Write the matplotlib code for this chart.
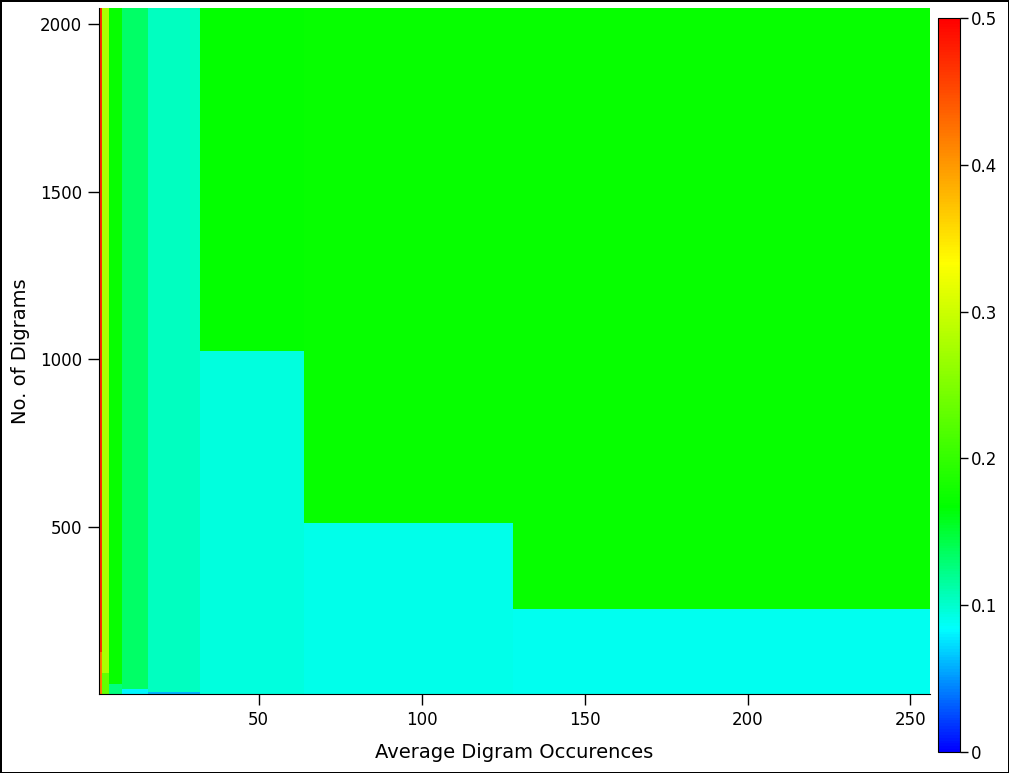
import numpy as np
import matplotlib
matplotlib.use('Agg')
from matplotlib import pyplot as plt
from matplotlib.colors import LinearSegmentedColormap

# cell edges (powers of two)
occ_edges = [1, 2, 4, 8, 16, 32, 64, 128, 256]
dig_edges = [2, 4, 8, 16, 32, 64, 128, 256, 512, 1024, 2048]

# one list per column (bottom row first)
col_1 = [0.42, 0.42, 0.42, 0.42, 0.42, 0.42, 0.47, 0.47, 0.47, 0.47]
col_2 = [0.232, 0.232, 0.232, 0.232, 0.232, 0.278, 0.278, 0.278, 0.278, 0.278]
col_4 = [0.125, 0.125, 0.125, 0.125, 0.17, 0.17, 0.17, 0.17, 0.17, 0.17]
col_8 = [0.082, 0.082, 0.082, 0.133, 0.133, 0.133, 0.133, 0.133, 0.133, 0.133]
col_16 = [0.059, 0.059, 0.105, 0.105, 0.105, 0.105, 0.105, 0.105, 0.105, 0.105]
col_32 = [0.095, 0.095, 0.095, 0.095, 0.095, 0.095, 0.095, 0.095, 0.095, 0.168]
col_64 = [0.091, 0.091, 0.091, 0.091, 0.091, 0.091, 0.091, 0.091, 0.17, 0.17]
col_128 = [0.088, 0.088, 0.088, 0.088, 0.088, 0.088, 0.088, 0.17, 0.17, 0.17]

x_ticks = [50, 100, 150, 200, 250]
y_ticks = [500, 1000, 1500, 2000]
cbar_ticks = [0, 0.1, 0.2, 0.3, 0.4, 0.5]

values = np.column_stack([col_1, col_2, col_4, col_8, col_16,
                          col_32, col_64, col_128])

cmap = LinearSegmentedColormap.from_list(
    'rainbow5', [(0, '#0000ff'), (1/6, '#00ffff'), (1/3, '#00ff00'),
                 (2/3, '#ffff00'), (1, '#ff0000')])

fig = plt.figure(figsize=(10.09, 7.73), dpi=100)
fig.patch.set_edgecolor('black')
fig.patch.set_linewidth(2)

ax = fig.add_axes([99/1009, 79/773, 831/1009, 686/773])
mesh = ax.pcolormesh(occ_edges, dig_edges, values, cmap=cmap,
                     vmin=0, vmax=0.5, shading='flat')
ax.set_xlim(occ_edges[0], occ_edges[-1])
ax.set_ylim(dig_edges[0], dig_edges[-1])
ax.set_xticks(x_ticks)
ax.set_yticks(y_ticks)
ax.spines['top'].set_visible(False)
ax.spines['right'].set_visible(False)
ax.tick_params(direction='out', length=8, width=1, labelsize=12, pad=4)
ax.set_xlabel('Average Digram Occurences', fontsize=14, labelpad=10)
ax.set_ylabel('No. of Digrams', fontsize=14, labelpad=7)

cax = fig.add_axes([938/1009, 21/773, 22/1009, 734/773])
cb = fig.colorbar(mesh, cax=cax, ticks=cbar_ticks)
cb.ax.set_yticklabels(['0', '0.1', '0.2', '0.3', '0.4', '0.5'])
cb.ax.tick_params(direction='out', length=6, width=1, labelsize=12, pad=2)
cb.outline.set_linewidth(0.8)

fig.savefig('out.png', dpi=100)
